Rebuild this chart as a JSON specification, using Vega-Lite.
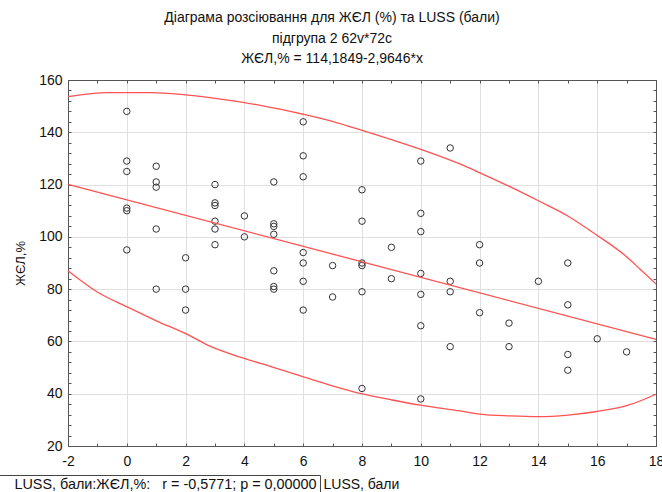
{
  "$schema": "https://vega.github.io/schema/vega-lite/v6.json",
  "autosize": "none",
  "width": 588,
  "height": 366,
  "padding": {"left": 68, "top": 80, "right": 6, "bottom": 46},
  "background": "white",
  "title": {
    "text": ["Діаграма розсіювання для ЖЄЛ (%) та LUSS (бали)", "підгрупа 2 62v*72c", "ЖЄЛ,% = 114,1849-2,9646*x"],
    "font": "Liberation Sans",
    "fontSize": 14,
    "fontWeight": "normal",
    "color": "#111",
    "lineHeight": 20.5,
    "anchor": "middle",
    "dx": -30,
    "offset": 7
  },
  "datasets": {
    "points": [
      {"x": 0, "y": 148}, {"x": 0, "y": 129}, {"x": 0, "y": 125}, {"x": 0, "y": 111}, {"x": 0, "y": 110}, {"x": 0, "y": 95},
      {"x": 1, "y": 127}, {"x": 1, "y": 121}, {"x": 1, "y": 119}, {"x": 1, "y": 103}, {"x": 1, "y": 80},
      {"x": 2, "y": 92}, {"x": 2, "y": 80}, {"x": 2, "y": 72},
      {"x": 3, "y": 120}, {"x": 3, "y": 113}, {"x": 3, "y": 112}, {"x": 3, "y": 106}, {"x": 3, "y": 103}, {"x": 3, "y": 97},
      {"x": 4, "y": 108}, {"x": 4, "y": 100},
      {"x": 5, "y": 121}, {"x": 5, "y": 105}, {"x": 5, "y": 104}, {"x": 5, "y": 101}, {"x": 5, "y": 87}, {"x": 5, "y": 81}, {"x": 5, "y": 80},
      {"x": 6, "y": 144}, {"x": 6, "y": 131}, {"x": 6, "y": 123}, {"x": 6, "y": 94}, {"x": 6, "y": 90}, {"x": 6, "y": 83}, {"x": 6, "y": 72},
      {"x": 7, "y": 89}, {"x": 7, "y": 77},
      {"x": 8, "y": 118}, {"x": 8, "y": 106}, {"x": 8, "y": 90}, {"x": 8, "y": 89}, {"x": 8, "y": 79}, {"x": 8, "y": 42},
      {"x": 9, "y": 96}, {"x": 9, "y": 84},
      {"x": 10, "y": 129}, {"x": 10, "y": 109}, {"x": 10, "y": 102}, {"x": 10, "y": 86}, {"x": 10, "y": 78}, {"x": 10, "y": 66}, {"x": 10, "y": 38},
      {"x": 11, "y": 134}, {"x": 11, "y": 83}, {"x": 11, "y": 79}, {"x": 11, "y": 58},
      {"x": 12, "y": 97}, {"x": 12, "y": 90}, {"x": 12, "y": 71},
      {"x": 13, "y": 67}, {"x": 13, "y": 58},
      {"x": 14, "y": 83},
      {"x": 15, "y": 90}, {"x": 15, "y": 74}, {"x": 15, "y": 55}, {"x": 15, "y": 49},
      {"x": 16, "y": 61},
      {"x": 17, "y": 56}
    ],
    "fit": [
      {"x": -2, "y": 120.1}, {"x": 18, "y": 60.8}
    ],
    "curves": [
      {"part": "upper", "x": -2, "y": 153.6}, {"part": "upper", "x": -0.64, "y": 155.2}, {"part": "upper", "x": 0.84, "y": 155.2},
      {"part": "upper", "x": 2.0, "y": 154.3}, {"part": "upper", "x": 3.25, "y": 152.6}, {"part": "upper", "x": 4.5, "y": 150.4},
      {"part": "upper", "x": 6.0, "y": 146.9}, {"part": "upper", "x": 7.02, "y": 144.1}, {"part": "upper", "x": 8.04, "y": 140.6},
      {"part": "upper", "x": 9.06, "y": 137.0}, {"part": "upper", "x": 10.0, "y": 133.5}, {"part": "upper", "x": 11.33, "y": 127.9},
      {"part": "upper", "x": 12.01, "y": 124.5}, {"part": "upper", "x": 13.03, "y": 119.2}, {"part": "upper", "x": 14.0, "y": 113.8},
      {"part": "upper", "x": 15.0, "y": 108.0}, {"part": "upper", "x": 15.98, "y": 100.7}, {"part": "upper", "x": 17.0, "y": 92.4},
      {"part": "upper", "x": 17.46, "y": 87.6}, {"part": "upper", "x": 18.0, "y": 82.0},
      {"part": "lower", "x": -2, "y": 87.0}, {"part": "lower", "x": -1.02, "y": 79.0}, {"part": "lower", "x": 0.05, "y": 73.0},
      {"part": "lower", "x": 1.02, "y": 67.8}, {"part": "lower", "x": 2.04, "y": 62.8}, {"part": "lower", "x": 2.83, "y": 58.2},
      {"part": "lower", "x": 3.96, "y": 53.6}, {"part": "lower", "x": 4.98, "y": 50.1}, {"part": "lower", "x": 6.04, "y": 46.3},
      {"part": "lower", "x": 7.02, "y": 42.9}, {"part": "lower", "x": 8.01, "y": 39.9}, {"part": "lower", "x": 9.02, "y": 37.6},
      {"part": "lower", "x": 10.0, "y": 35.6}, {"part": "lower", "x": 11.33, "y": 33.4}, {"part": "lower", "x": 12.01, "y": 32.2},
      {"part": "lower", "x": 13.03, "y": 31.5}, {"part": "lower", "x": 14.0, "y": 31.2}, {"part": "lower", "x": 15.0, "y": 31.8},
      {"part": "lower", "x": 15.98, "y": 33.2}, {"part": "lower", "x": 17.0, "y": 35.4}, {"part": "lower", "x": 18.0, "y": 39.8}
    ]
  },
  "resolve": {"axis": {"x": "independent", "y": "independent"}},
  "layer": [
    {
      "data": {"name": "points"},
      "mark": {"type": "point", "shape": "circle", "filled": false, "color": "#333", "size": 42, "strokeWidth": 1, "opacity": 1},
      "encoding": {
        "x": {
          "field": "x", "type": "quantitative",
          "scale": {"domain": [-2, 18], "nice": false, "zero": false},
          "axis": {
            "orient": "bottom",
            "values": [-2, -1, 0, 1, 2, 3, 4, 5, 6, 7, 8, 9, 10, 11, 12, 13, 14, 15, 16, 17, 18],
            "labelExpr": "datum.value % 2 === 0 ? '' + datum.value : ''",
            "labelOverlap": false, "labelFlush": false, "labelBound": false,
            "labelFont": "Liberation Sans", "labelFontSize": 14, "labelColor": "#111",
            "labelPadding": 11,
            "tickSize": -3, "tickColor": "#555",
            "domainColor": "#555",
            "grid": true, "gridColor": "#e0e0e0",
            "gridOpacity": {"condition": {"test": "datum.value % 2 === 0", "value": 1}, "value": 0},
            "title": "LUSS, бали",
            "titleFont": "Liberation Sans", "titleFontSize": 14, "titleFontWeight": "normal", "titleColor": "#111",
            "titleX": 255, "titleY": 38, "titleAlign": "left", "titleAnchor": "start", "titleBaseline": "middle"
          }
        },
        "y": {
          "field": "y", "type": "quantitative",
          "scale": {"domain": [20, 160], "nice": false, "zero": false},
          "axis": {
            "orient": "left",
            "values": [20, 24, 28, 32, 36, 40, 44, 48, 52, 56, 60, 64, 68, 72, 76, 80, 84, 88, 92, 96, 100, 104, 108, 112, 116, 120, 124, 128, 132, 136, 140, 144, 148, 152, 156, 160],
            "labelExpr": "datum.value % 20 === 0 ? datum.label : ''",
            "labelOverlap": false, "labelFlush": false, "labelBound": false,
            "labelFont": "Liberation Sans", "labelFontSize": 14, "labelColor": "#111",
            "labelPadding": 9,
            "tickSize": -3, "tickColor": "#555",
            "domainColor": "#555",
            "grid": true, "gridColor": "#e0e0e0",
            "gridOpacity": {"condition": {"test": "datum.value % 20 === 0", "value": 1}, "value": 0},
            "title": "ЖЄЛ,%",
            "titleFont": "Liberation Sans", "titleFontSize": 13, "titleFontWeight": "normal", "titleColor": "#111",
            "titleX": -48, "titleY": 183, "titleAngle": 270, "titleAlign": "center", "titleBaseline": "middle"
          }
        }
      }
    },
    {
      "data": {"name": "fit"},
      "mark": {"type": "line", "strokeWidth": 1.3},
      "encoding": {
        "x": {
          "field": "x", "type": "quantitative",
          "axis": {
            "orient": "top",
            "values": [-2, -1, 0, 1, 2, 3, 4, 5, 6, 7, 8, 9, 10, 11, 12, 13, 14, 15, 16, 17, 18],
            "labels": false, "grid": false, "title": null,
            "tickSize": -3, "tickColor": "#555", "domainColor": "#555"
          }
        },
        "y": {
          "field": "y", "type": "quantitative",
          "axis": {
            "orient": "right",
            "values": [20, 24, 28, 32, 36, 40, 44, 48, 52, 56, 60, 64, 68, 72, 76, 80, 84, 88, 92, 96, 100, 104, 108, 112, 116, 120, 124, 128, 132, 136, 140, 144, 148, 152, 156, 160],
            "labels": false, "grid": false, "title": null,
            "tickSize": -3, "tickColor": "#555", "domainColor": "#555"
          }
        },
        "color": {
          "datum": "LUSS, бали:ЖЄЛ,%:\u00a0\u00a0\u00a0r = -0,5771; p = 0,00000",
          "type": "nominal",
          "scale": {"range": ["#ff5252"]},
          "legend": {
            "orient": "none",
            "legendX": -83,
            "legendY": 395,
            "title": null,
            "strokeColor": "#444",
            "padding": 3,
            "symbolSize": 0,
            "symbolOpacity": 0,
            "symbolStrokeWidth": 0,
            "labelOffset": 12,
            "labelFont": "Liberation Sans",
            "labelFontSize": 14.4,
            "labelColor": "#111",
            "labelLimit": 600
          }
        }
      }
    },
    {
      "data": {"name": "curves"},
      "mark": {"type": "line", "color": "#ff5252", "strokeWidth": 1.3, "interpolate": "monotone"},
      "encoding": {
        "x": {"field": "x", "type": "quantitative", "axis": null},
        "y": {"field": "y", "type": "quantitative", "axis": null},
        "detail": {"field": "part"}
      }
    }
  ],
  "config": {
    "view": {"stroke": "#555", "strokeWidth": 1},
    "axis": {"domainWidth": 1, "tickWidth": 1}
  }
}
